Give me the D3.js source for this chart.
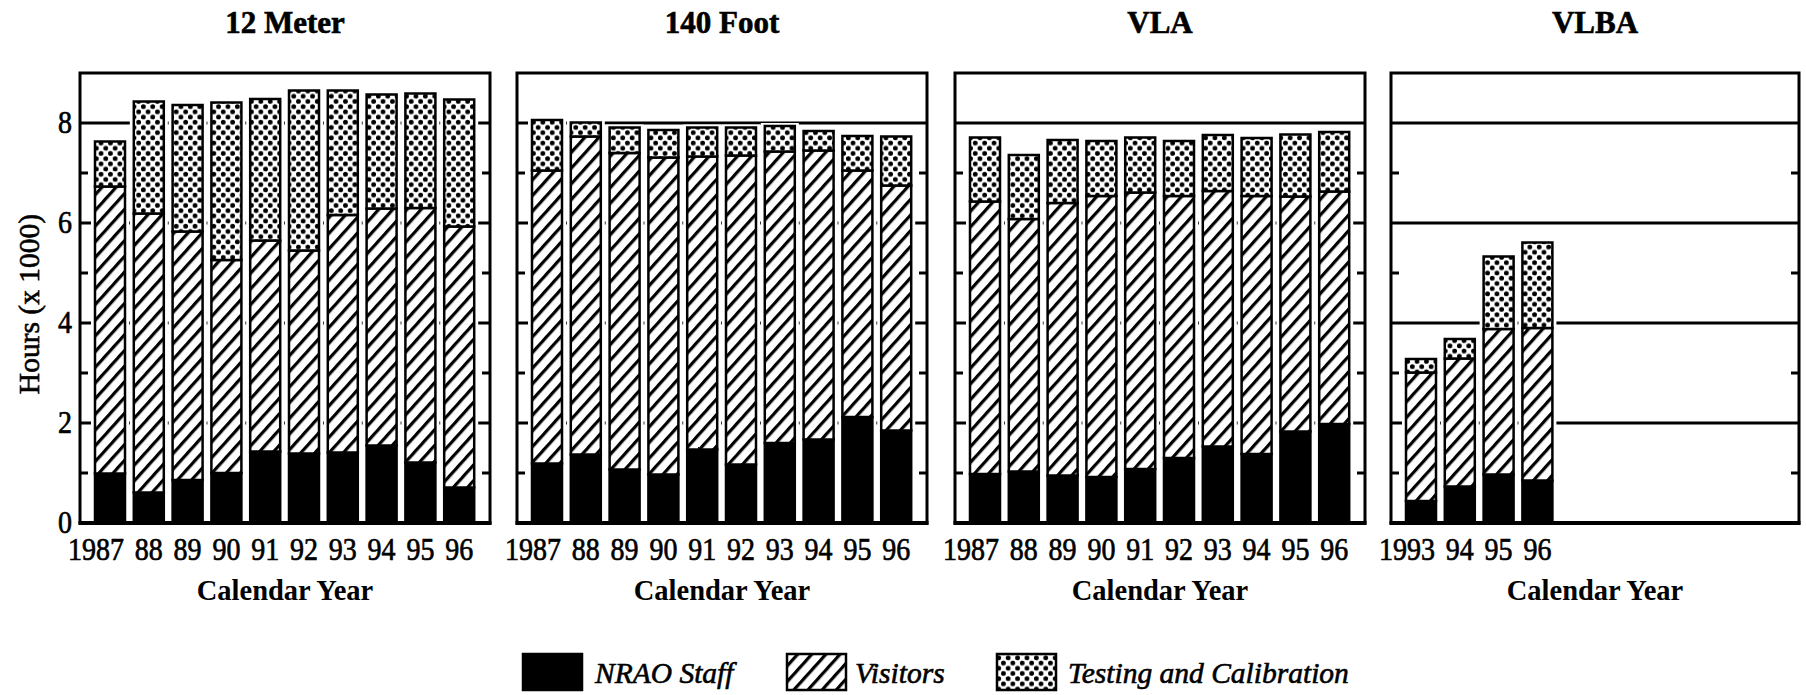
<!DOCTYPE html>
<html>
<head>
<meta charset="utf-8">
<script src="https://cdn.jsdelivr.net/npm/d3@7"></script>
<style>
  html, body { margin: 0; padding: 0; background: #fff; }
  svg { display: block; }
  text { font-family: "Liberation Serif", "Times New Roman", serif; fill: #000; }
  text.heavy { stroke: #000; stroke-width: 0.6px; }
</style>
</head>
<body>
<svg id="chart" width="1806" height="695"></svg>
<script>
// ---------------- data (hours x 1000) ----------------
const panelTitles = ["12 Meter", "140 Foot", "VLA", "VLBA"];
const yearsLong = ["1987", "88", "89", "90", "91", "92", "93", "94", "95", "96"];
const yearsVLBA = ["1993", "94", "95", "96"];

const staff12m    = [0.99, 0.61, 0.86, 1.00, 1.43, 1.39, 1.41, 1.55, 1.21, 0.71];
const visitors12m = [5.74, 5.58, 4.97, 4.26, 4.22, 4.06, 4.75, 4.74, 5.09, 5.22];
const testing12m  = [0.90, 2.24, 2.53, 3.15, 2.83, 3.20, 2.49, 2.28, 2.29, 2.54];

const staff140    = [1.19, 1.37, 1.07, 0.97, 1.47, 1.17, 1.60, 1.67, 2.12, 1.85];
const visitors140 = [5.86, 6.36, 6.33, 6.34, 5.86, 6.18, 5.83, 5.78, 4.93, 4.90];
const testing140  = [1.01, 0.28, 0.51, 0.55, 0.58, 0.56, 0.51, 0.39, 0.69, 0.98];

const staffVLA    = [0.98, 1.03, 0.95, 0.92, 1.08, 1.30, 1.53, 1.38, 1.83, 1.98];
const visitorsVLA = [5.45, 5.05, 5.45, 5.62, 5.53, 5.24, 5.11, 5.16, 4.70, 4.65];
const testingVLA  = [1.28, 1.28, 1.26, 1.10, 1.10, 1.10, 1.12, 1.16, 1.24, 1.19];

const staffVLBA    = [0.44, 0.73, 0.97, 0.85];
const visitorsVLBA = [2.57, 2.56, 2.91, 3.05];
const testingVLBA  = [0.27, 0.39, 1.45, 1.71];

const seriesNames = ["NRAO Staff", "Visitors", "Testing and Calibration"];
const yMajorTicks = [0, 2, 4, 6, 8];
const yMinorTicks = [1, 3, 5, 7];
const yAxisTitle = "Hours (x 1000)";
const xAxisTitle = "Calendar Year";

// ---------------- layout ----------------
const svg = d3.select("#chart");
const defs = svg.append("defs");

const hatch = defs.append("pattern").attr("id", "hatch")
  .attr("patternUnits", "userSpaceOnUse").attr("width", 10.5).attr("height", 10.5)
  .attr("patternTransform", "rotate(-48)");
hatch.append("rect").attr("width", 10.5).attr("height", 10.5).attr("fill", "#fff");
hatch.append("rect").attr("x", 0).attr("y", 0).attr("width", 10.5).attr("height", 3.2).attr("fill", "#000");

const dots = defs.append("pattern").attr("id", "dots")
  .attr("patternUnits", "userSpaceOnUse").attr("width", 9.4).attr("height", 10.4);
dots.append("rect").attr("width", 9.4).attr("height", 10.4).attr("fill", "#fff");
dots.append("circle").attr("cx", 2.35).attr("cy", 2.6).attr("r", 2.4).attr("fill", "#000");
dots.append("circle").attr("cx", 7.05).attr("cy", 7.8).attr("r", 2.4).attr("fill", "#000");

const fills = ["#000", "url(#hatch)", "url(#dots)"];

const plotTop = 73, plotBottom = 523;
const y = d3.scaleLinear().domain([0, 9]).range([plotBottom, plotTop]);

const panels = [
  { title: panelTitles[0], years: yearsLong, data: [staff12m, visitors12m, testing12m], left: 80, width: 410 },
  { title: panelTitles[1], years: yearsLong, data: [staff140, visitors140, testing140], left: 517, width: 410 },
  { title: panelTitles[2], years: yearsLong, data: [staffVLA, visitorsVLA, testingVLA], left: 955, width: 410 },
  { title: panelTitles[3], years: yearsVLBA, data: [staffVLBA, visitorsVLBA, testingVLBA], left: 1391, width: 408 }
];

const step = 38.8, bw = 30, firstOffset = 15;

panels.forEach((p, pi) => {
  const g = svg.append("g");
  const n = p.years.length;
  const x0 = p.left + firstOffset;
  const x = d3.scaleBand().domain(p.years)
    .range([x0, x0 + (n - 1) * step + bw])
    .paddingInner(1 - bw / step).paddingOuter(0);

  // gridlines
  g.selectAll("line.grid").data(yMajorTicks.filter(d => d > 0)).join("line")
    .attr("x1", p.left).attr("x2", p.left + p.width)
    .attr("y1", d => y(d)).attr("y2", d => y(d))
    .attr("stroke", "#000").attr("stroke-width", 3);

  // stacked data
  const rows = p.years.map((yr, i) => ({ year: yr, s0: p.data[0][i], s1: p.data[1][i], s2: p.data[2][i] }));
  const stack = d3.stack().keys(["s0", "s1", "s2"])(rows);

  // white halo behind each bar
  g.selectAll("rect.halo").data(rows).join("rect")
    .attr("x", d => x(d.year) - 4).attr("width", x.bandwidth() + 8)
    .attr("y", d => y(d.s0 + d.s1 + d.s2) - 3)
    .attr("height", d => plotBottom - y(d.s0 + d.s1 + d.s2) + 3)
    .attr("fill", "#fff");

  stack.forEach((layer, li) => {
    g.selectAll("rect.seg" + li).data(layer).join("rect")
      .attr("x", d => x(d.data.year)).attr("width", x.bandwidth())
      .attr("y", d => y(d[1])).attr("height", d => y(d[0]) - y(d[1]))
      .attr("fill", fills[li]).attr("stroke", "#000").attr("stroke-width", 2.5);
  });

  // frame
  g.append("rect").attr("x", p.left).attr("y", plotTop)
    .attr("width", p.width).attr("height", plotBottom - plotTop)
    .attr("fill", "none").attr("stroke", "#000").attr("stroke-width", 3);
  g.append("line").attr("x1", p.left - 1.5).attr("x2", p.left + p.width + 1.5)
    .attr("y1", plotBottom).attr("y2", plotBottom).attr("stroke", "#000").attr("stroke-width", 4);

  // minor ticks both sides
  yMinorTicks.forEach(t => {
    g.append("line").attr("x1", p.left).attr("x2", p.left + 8)
      .attr("y1", y(t)).attr("y2", y(t)).attr("stroke", "#000").attr("stroke-width", 3);
    g.append("line").attr("x1", p.left + p.width - 8).attr("x2", p.left + p.width)
      .attr("y1", y(t)).attr("y2", y(t)).attr("stroke", "#000").attr("stroke-width", 3);
  });

  // x tick labels: last two digits centred under each bar
  g.selectAll("text.xt").data(p.years).join("text")
    .attr("class", "heavy")
    .attr("transform", d => `translate(${x(d) + x.bandwidth() / 2 + 14},560) scale(1,1.15)`)
    .attr("text-anchor", "end")
    .style("font-size", "28px")
    .text(d => d);

  // panel title
  g.append("text").attr("x", p.left + p.width / 2).attr("y", 33)
    .attr("text-anchor", "middle").style("font-size", "31px").style("font-weight", "bold")
    .attr("class", "heavy")
    .text(p.title);

  // x axis title
  g.append("text").attr("x", p.left + p.width / 2).attr("y", 600)
    .attr("text-anchor", "middle").style("font-size", "28.5px").style("font-weight", "bold")
    .text(xAxisTitle);

  if (pi === 0) {
    g.selectAll("text.yt").data(yMajorTicks).join("text")
      .attr("class", "heavy")
      .attr("transform", d => `translate(72,${y(d) + 10}) scale(1,1.15)`)
      .attr("text-anchor", "end").style("font-size", "28px")
      .text(d => d);
    g.append("text")
      .attr("class", "heavy")
      .attr("transform", `translate(39,304) rotate(-90)`)
      .attr("text-anchor", "middle").style("font-size", "29.5px")
      .text(yAxisTitle);
  }
});

// ---------------- legend ----------------
const legendItems = [
  { box: 523, text: 595 },
  { box: 787, text: 855 },
  { box: 997, text: 1068 }
];
const lg = svg.append("g");
legendItems.forEach((it, i) => {
  lg.append("rect").attr("x", it.box).attr("y", 654).attr("width", 59).attr("height", 36)
    .attr("fill", fills[i]).attr("stroke", "#000").attr("stroke-width", 2.5);
  lg.append("text").attr("x", it.text).attr("y", 683)
    .attr("class", "heavy")
    .style("font-size", "29.5px").style("font-style", "italic")
    .text(seriesNames[i]);
});
</script>
</body>
</html>
